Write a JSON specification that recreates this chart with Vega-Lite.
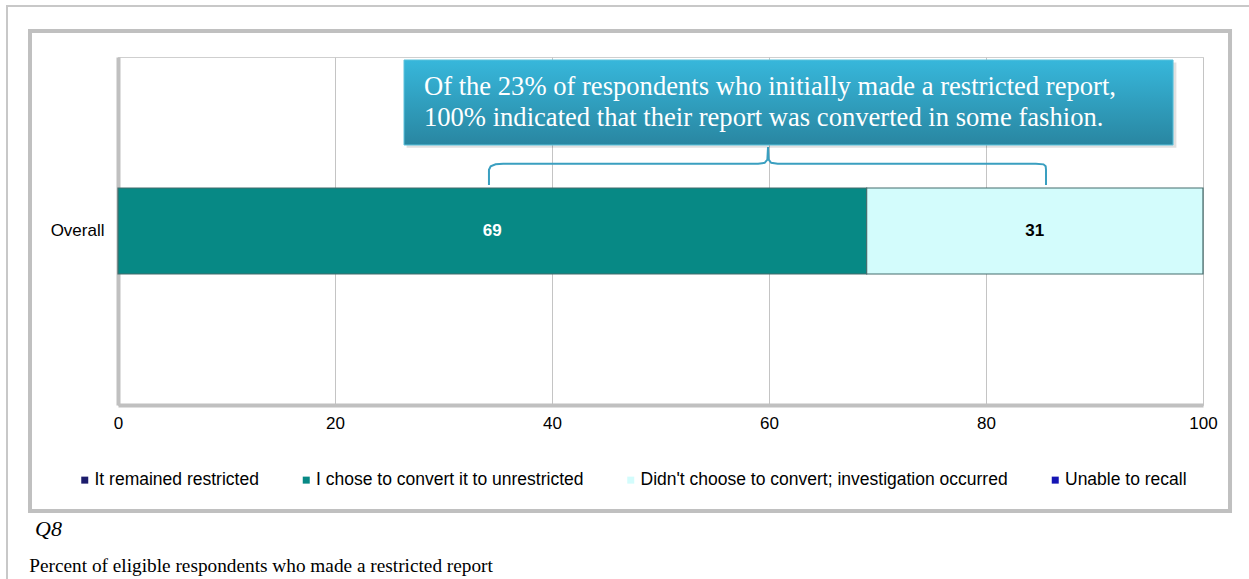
{
  "$schema": "https://vega.github.io/schema/vega-lite/v6.json",
  "width": 1085,
  "height": 348,
  "autosize": {"type": "none"},
  "padding": {"left": 118, "top": 57, "right": 46, "bottom": 174},
  "background": "#ffffff",
  "config": {
    "view": {"stroke": "#cfcfcf", "strokeWidth": 1},
    "font": "Liberation Sans",
    "axis": {"labelFont": "Liberation Sans", "labelFontSize": 17, "labelColor": "#000000", "ticks": false, "domainColor": "#c0c0c0", "domainWidth": 4, "gridColor": "#c4c4c4", "gridWidth": 1, "title": null},
    "axisX": {"tickCount": 5, "grid": true, "labelPadding": 10, "labelFlush": false},
    "axisY": {"grid": false, "labelPadding": 14},
    "legend": {"orient": "none", "legendX": -42, "legendY": 414, "direction": "horizontal", "columnPadding": 38.5, "labelFont": "Liberation Sans", "labelFontSize": 17.5, "labelColor": "#000000", "labelLimit": 600, "symbolType": "square", "symbolSize": 49, "symbolStrokeWidth": 0, "labelOffset": 1, "title": null}
  },
  "datasets": {
    "bars": [
      {"group": "Overall", "response": "I chose to convert it to unrestricted", "percent": 69},
      {"group": "Overall", "response": "Didn't choose to convert; investigation occurred", "percent": 31}
    ],
    "outer": [{"x1": -10.23, "x2": 105.3, "y1": 114.66, "y2": -56}],
    "inner": [{"x1": -8.11, "x2": 102.49, "y1": 107.47, "y2": -30.46}],
    "box": [{"x1": 26.36, "x2": 97.24, "y1": 99.14, "y2": 74.71}],
    "shadow": [{"x1": 26.6, "x2": 97.55, "y1": 98.4, "y2": 73.9}],
    "note": [{"x": 28.2, "y": 89.08, "label": "Of the 23% of respondents who initially made a restricted report,\n100% indicated that their report was converted in some fashion."}],
    "q": [{"x": -7.65, "y": -37.64, "label": "Q8"}],
    "foot": [{"x": -8.18, "y": -48.13, "label": "Percent of eligible  respondents who made a restricted report"}],
    "brace": [
      {"i": 1, "bx": 34.19, "by": 63.2},
      {"i": 2, "bx": 34.19, "by": 67.6},
      {"i": 3, "bx": 34.35, "by": 68.6},
      {"i": 4, "bx": 34.8, "by": 69.15},
      {"i": 5, "bx": 35.5, "by": 69.3},
      {"i": 6, "bx": 59.0, "by": 69.3},
      {"i": 7, "bx": 59.6, "by": 69.6},
      {"i": 8, "bx": 59.85, "by": 70.5},
      {"i": 9, "bx": 59.91, "by": 74.1},
      {"i": 10, "bx": 59.97, "by": 70.5},
      {"i": 11, "bx": 60.2, "by": 69.6},
      {"i": 12, "bx": 60.8, "by": 69.3},
      {"i": 13, "bx": 84.6, "by": 69.3},
      {"i": 14, "bx": 85.3, "by": 69.15},
      {"i": 15, "bx": 85.5, "by": 68.6},
      {"i": 16, "bx": 85.53, "by": 67.6},
      {"i": 17, "bx": 85.53, "by": 63.2}
    ]
  },
  "layer": [
    {
      "data": {"name": "outer"},
      "mark": {"type": "rect", "fill": null, "stroke": "#c8c8c8", "strokeWidth": 2},
      "encoding": {
        "x": {"field": "x1", "type": "quantitative", "scale": {"domain": [0, 100], "nice": false}, "title": null},
        "x2": {"field": "x2"},
        "y": {"field": "y1", "type": "quantitative", "scale": {"domain": [0, 100], "nice": false, "zero": false}, "axis": null},
        "y2": {"field": "y2"}
      }
    },
    {
      "data": {"name": "inner"},
      "mark": {"type": "rect", "fill": null, "stroke": "#c0c0c0", "strokeWidth": 4},
      "encoding": {
        "x": {"field": "x1", "type": "quantitative", "scale": {"domain": [0, 100], "nice": false}, "title": null},
        "x2": {"field": "x2"},
        "y": {"field": "y1", "type": "quantitative", "scale": {"domain": [0, 100], "nice": false, "zero": false}, "axis": null},
        "y2": {"field": "y2"}
      }
    },
    {
      "data": {"name": "bars"},
      "mark": {"type": "bar", "size": 86, "stroke": "#456c6c", "strokeWidth": 1.2},
      "encoding": {
        "y": {"field": "group", "type": "nominal", "title": null},
        "x": {"field": "percent", "type": "quantitative", "stack": "zero", "scale": {"domain": [0, 100], "nice": false}, "title": null},
        "color": {
          "field": "response",
          "type": "nominal",
          "scale": {
            "domain": ["It remained restricted", "I chose to convert it to unrestricted", "Didn't choose to convert; investigation occurred", "Unable to recall"],
            "range": ["#1c1c6c", "#078985", "#d3fcfc", "#1414b4"]
          },
          "legend": {}
        },
        "order": {"field": "percent", "sort": "descending"}
      }
    },
    {
      "data": {"name": "bars"},
      "transform": [
        {"stack": "percent", "groupby": ["group"], "sort": [{"field": "percent", "order": "descending"}], "as": ["x0", "x1"]},
        {"calculate": "(datum.x0 + datum.x1) / 2", "as": "mid"}
      ],
      "mark": {"type": "text", "font": "Liberation Sans", "fontSize": 17, "fontWeight": "bold"},
      "encoding": {
        "y": {"field": "group", "type": "nominal", "axis": null},
        "x": {"field": "mid", "type": "quantitative", "scale": {"domain": [0, 100], "nice": false}, "title": null},
        "text": {"field": "percent", "type": "quantitative"},
        "color": {"condition": {"test": "datum.percent > 50", "value": "#ffffff"}, "value": "#000000"}
      }
    },
    {
      "data": {"name": "shadow"},
      "mark": {"type": "rect", "fill": "#000000", "opacity": 0.12},
      "encoding": {
        "x": {"field": "x1", "type": "quantitative", "scale": {"domain": [0, 100], "nice": false}, "title": null},
        "x2": {"field": "x2"},
        "y": {"field": "y1", "type": "quantitative", "scale": {"domain": [0, 100], "nice": false, "zero": false}, "axis": null},
        "y2": {"field": "y2"}
      }
    },
    {
      "data": {"name": "box"},
      "mark": {
        "type": "rect",
        "fill": {"gradient": "linear", "x1": 0, "y1": 0, "x2": 0, "y2": 1, "stops": [{"offset": 0, "color": "#37b7db"}, {"offset": 1, "color": "#2986a1"}]},
        "stroke": "#5cc3dd",
        "strokeWidth": 1
      },
      "encoding": {
        "x": {"field": "x1", "type": "quantitative", "scale": {"domain": [0, 100], "nice": false}, "title": null},
        "x2": {"field": "x2"},
        "y": {"field": "y1", "type": "quantitative", "scale": {"domain": [0, 100], "nice": false, "zero": false}, "axis": null},
        "y2": {"field": "y2"}
      }
    },
    {
      "data": {"name": "note"},
      "mark": {"type": "text", "font": "Liberation Serif", "fontSize": 26.6, "color": "#ffffff", "align": "left", "baseline": "alphabetic", "lineBreak": "\n", "lineHeight": 31},
      "encoding": {
        "x": {"field": "x", "type": "quantitative", "scale": {"domain": [0, 100], "nice": false}, "title": null},
        "y": {"field": "y", "type": "quantitative", "scale": {"domain": [0, 100], "nice": false, "zero": false}, "axis": null},
        "text": {"field": "label", "type": "nominal"}
      }
    },
    {
      "data": {"name": "brace"},
      "mark": {"type": "line", "color": "#3a9fc0", "strokeWidth": 2},
      "encoding": {
        "x": {"field": "bx", "type": "quantitative", "scale": {"domain": [0, 100], "nice": false}, "title": null},
        "y": {"field": "by", "type": "quantitative", "scale": {"domain": [0, 100], "nice": false, "zero": false}, "axis": null},
        "order": {"field": "i", "type": "quantitative"}
      }
    },
    {
      "data": {"name": "q"},
      "mark": {"type": "text", "font": "Liberation Serif", "fontSize": 22, "fontStyle": "italic", "color": "#000000", "align": "left", "baseline": "alphabetic"},
      "encoding": {
        "x": {"field": "x", "type": "quantitative", "scale": {"domain": [0, 100], "nice": false}, "title": null},
        "y": {"field": "y", "type": "quantitative", "scale": {"domain": [0, 100], "nice": false, "zero": false}, "axis": null},
        "text": {"field": "label", "type": "nominal"}
      }
    },
    {
      "data": {"name": "foot"},
      "mark": {"type": "text", "font": "Liberation Serif", "fontSize": 19.3, "color": "#000000", "align": "left", "baseline": "alphabetic"},
      "encoding": {
        "x": {"field": "x", "type": "quantitative", "scale": {"domain": [0, 100], "nice": false}, "title": null},
        "y": {"field": "y", "type": "quantitative", "scale": {"domain": [0, 100], "nice": false, "zero": false}, "axis": null},
        "text": {"field": "label", "type": "nominal"}
      }
    }
  ],
  "resolve": {"scale": {"y": "independent"}, "axis": {"y": "independent"}}
}
